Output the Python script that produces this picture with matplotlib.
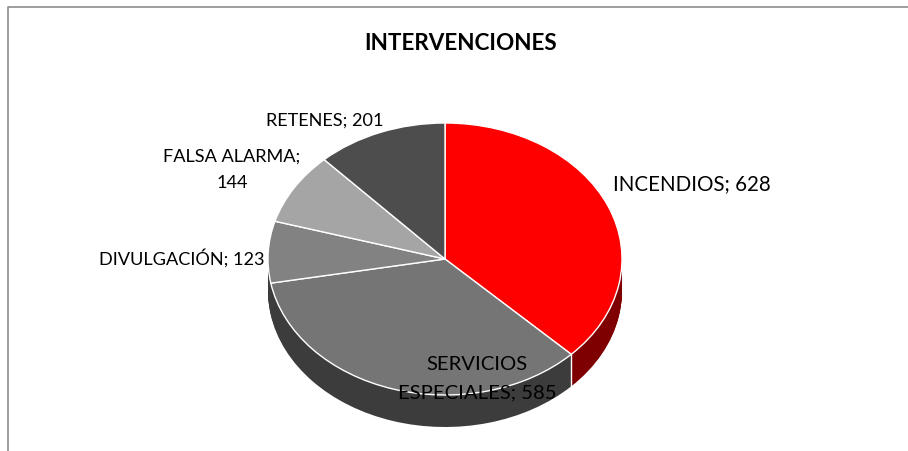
import numpy as np
from matplotlib import pyplot as plt

categories = ["INCENDIOS", "SERVICIOS ESPECIALES", "DIVULGACIÓN", "FALSA ALARMA", "RETENES"]
values = [628, 585, 123, 144, 201]
top_colors = ["#ff0000", "#757575", "#828282", "#a5a5a5", "#4d4d4d"]
wall_colors = ["#7f0000", "#3c3c3c", "#3c3c3c", "#3c3c3c", "#3c3c3c"]

W, H = 908, 452
cx, cy = 445, 260
rx, ry = 177, 136
depth = 32

plt.rcParams["font.family"] = ["Lato", "DejaVu Sans"]

fig = plt.figure(figsize=(W / 100, H / 100), dpi=100)
ax = fig.add_axes([0, 0, 1, 1])

# side wall: same pie stacked downwards, one pixel at a time
for d in range(depth, 0, -1):
    ax.pie(values, colors=wall_colors, startangle=90, counterclock=False,
           center=(0, -d / ry), wedgeprops={"linewidth": 0})
wedges, _ = ax.pie(values, colors=top_colors, startangle=90, counterclock=False,
                   wedgeprops={"edgecolor": "white", "linewidth": 1})

ax.set_aspect("auto")
ax.set_xlim(-cx / rx, (W - cx) / rx)
ax.set_ylim((cy - H) / ry, cy / ry)
ax.axis("off")

# white seam on the wall where the first slice ends
a = np.radians(90 - 360 * values[0] / sum(values))
ax.plot([np.cos(a)] * 2, [np.sin(a), np.sin(a) - depth / ry], color="white", lw=1)

# chart frame, only top and left show in the crop
fig.add_artist(plt.Line2D([8 / W, 8 / W, 1], [0, 1 - 8 / H, 1 - 8 / H], color="#8c8c8c", lw=1.2))


def label(x, y, s, size=13.1, **kw):
    fig.text(x / W, 1 - y / H, s, fontsize=size, ha="center", va="center", color="black", **kw)


label(461, 43, "INTERVENCIONES", size=16.2, fontweight="bold")
label(692, 184, f"{categories[0]}; {values[0]}", size=14.8)
label(477, 379, f"SERVICIOS\nESPECIALES; {values[1]}", size=14.6, linespacing=1.8)
label(182, 258, f"{categories[2]}; {values[2]}")
label(232, 170, f"{categories[3]};\n{values[3]}", linespacing=1.8)
label(325, 121, f"{categories[4]}; {values[4]}")

fig.savefig("out.png", dpi=100)
